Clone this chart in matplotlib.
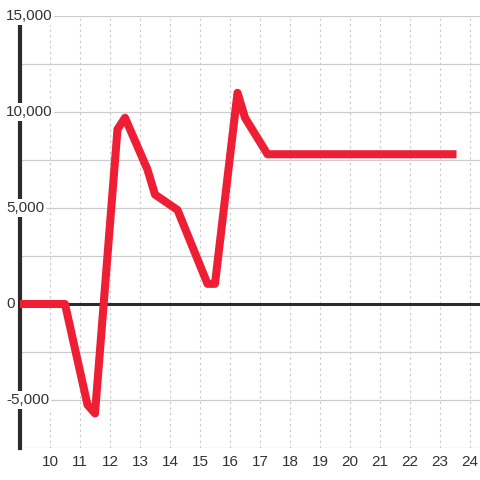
import matplotlib
matplotlib.use("Agg")
import matplotlib.pyplot as plt
import matplotlib.transforms as mtransforms

# data
hours = [9.0, 10.5, 11.25, 11.5, 12.25, 12.5, 13.25, 13.5, 14.25, 15.25, 15.5,
         16.25, 16.5, 17.25, 23.55]
values = [0, 0, -5250, -5700, 9100, 9700, 7000, 5700, 4900, 1050, 1050,
          11000, 9700, 7800, 7800]
xticks = list(range(10, 25))
ylabels = [15000, 10000, 5000, 0, -5000]

plt.rcParams['font.family'] = ['Liberation Sans', 'DejaVu Sans']
text_color = '#333333'

fig = plt.figure(figsize=(4.8, 4.8), dpi=100)
ax = fig.add_axes([20 / 480, 32 / 480, 460 / 480, 432 / 480])
ax.set_xlim(9, 9 + 460 / 30)
ax.set_ylim(-7500, 15000)

ax.set_yticks(range(-7500, 15001, 2500))
ax.set_xticks(xticks)
ax.grid(axis='y', color='#cccccc', lw=0.9, zorder=0)
ax.grid(axis='x', color='#c8c8c8', lw=0.8, ls=(0, (2, 3)), zorder=0)
ax.tick_params(length=0, labelleft=False, labelsize=11, colors=text_color, pad=5)

for s in ['top', 'right', 'bottom']:
    ax.spines[s].set_visible(False)
ax.spines['left'].set_linewidth(3)
ax.spines['left'].set_color('#2b2b2b')
ax.spines['left'].set_zorder(2)

ax.axhline(0, color='#2b2b2b', lw=2.2, zorder=2)
ax.plot(hours, values, color='#ee1f35', lw=5.8, solid_joinstyle='round',
        solid_capstyle='butt', zorder=3, clip_on=False)

trans = mtransforms.blended_transform_factory(fig.transFigure, ax.transData)
for v in ylabels:
    ax.text(6 / 480, v, f'{v:,}', transform=trans, ha='left', va='center',
            fontsize=11, color=text_color, zorder=4,
            bbox=dict(facecolor='white', edgecolor='none', pad=1.2))

fig.savefig('out.png', dpi=100, facecolor='white')
